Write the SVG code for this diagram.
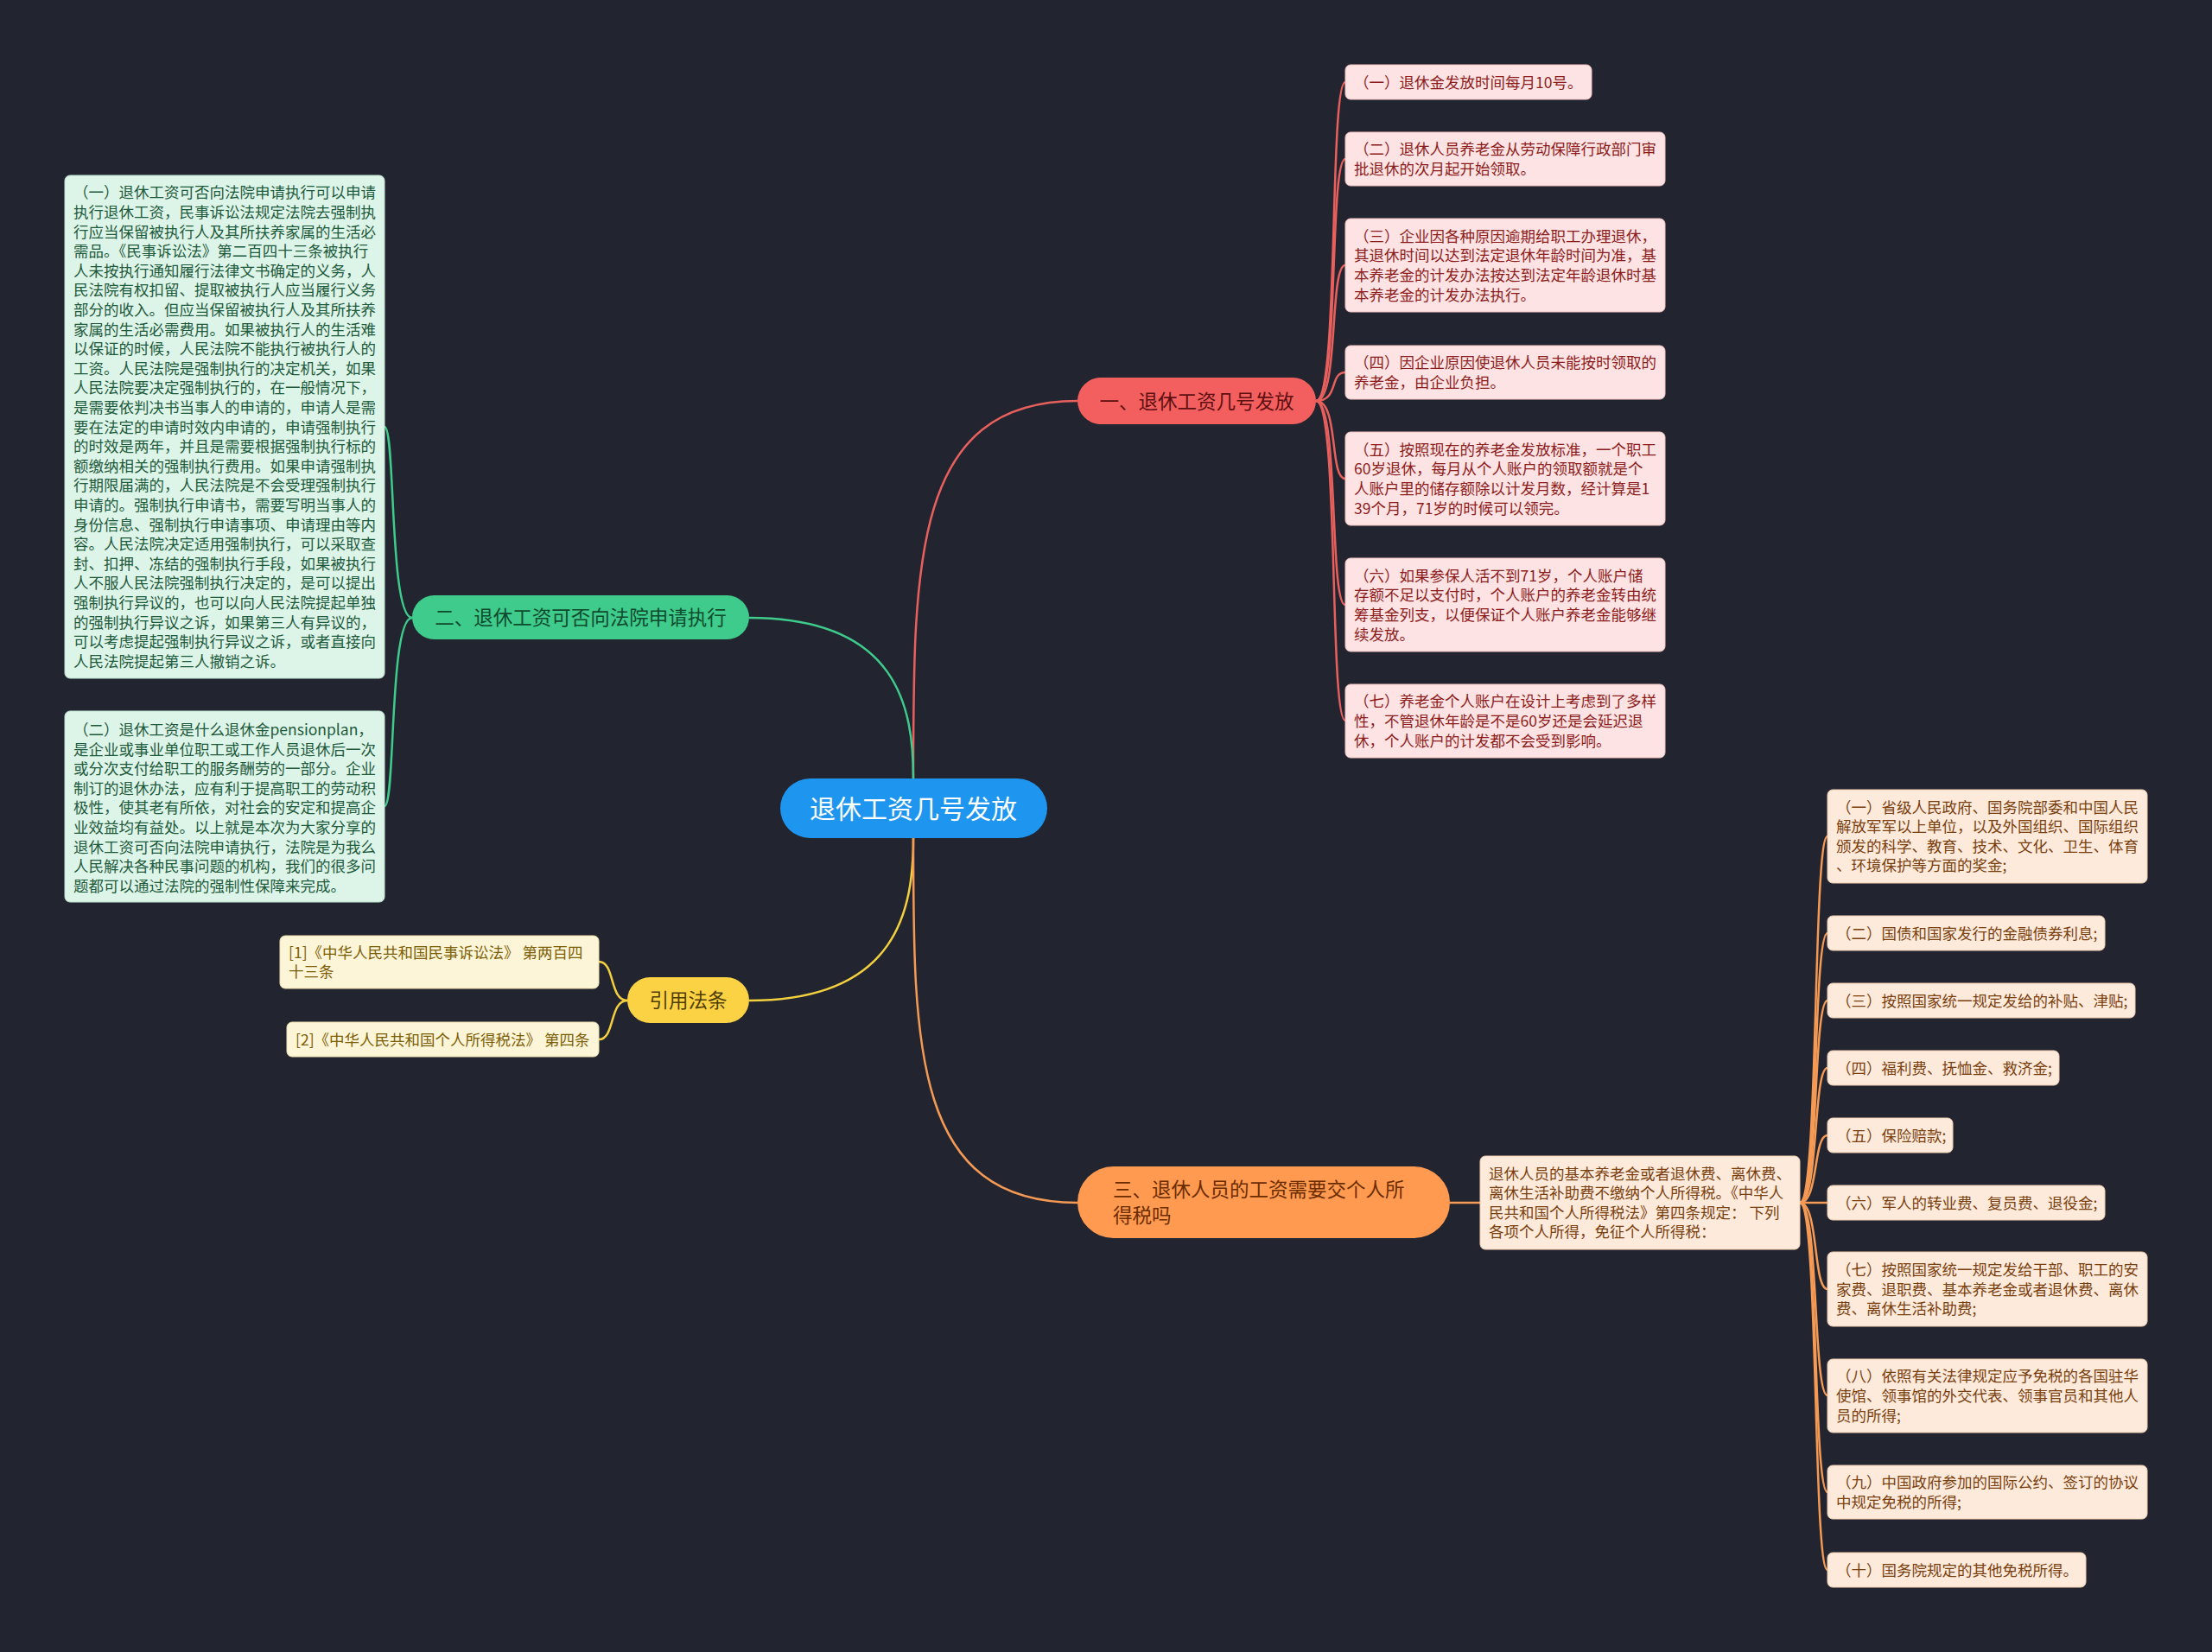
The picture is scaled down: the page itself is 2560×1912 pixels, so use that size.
<svg xmlns="http://www.w3.org/2000/svg" width="2560" height="1912" viewBox="0 0 2560 1912">
<style>
text{font-family:"Noto Sans CJK SC","Noto Sans",sans-serif}
.t{font-size:17.5px}
.br{font-size:22.5px}
.ln{fill:none;stroke-width:2.5}
.lr{stroke:#e8605e}.lg{stroke:#3fcb8c}.ly{stroke:#f2d040}.lo{stroke:#f59a55}
.pk rect{fill:#fde3e3;stroke:#f1c3c3;stroke-width:1}.pk text{fill:#8c1c1c}
.gb rect{fill:#ddf4e8;stroke:#bfe3cf;stroke-width:1}.gb text{fill:#1d5a3c}
.yb rect{fill:#fdf5d8;stroke:#ecdfae;stroke-width:1}.yb text{fill:#7b5e05}
.ob rect{fill:#fdeadb;stroke:#efcdb2;stroke-width:1}.ob text{fill:#7a3f0f}
</style>
<rect width="2560" height="1912" fill="#22252f"/>
<g id="connectors">
<path class="ln lr" d="M1057,901 C1057,650 1057,464 1247,464"/>
<path class="ln lg" d="M1057,901 C1057,820 1040,715 867,715"/>
<path class="ln ly" d="M1057,970 C1057,1051 1040,1158 867,1158"/>
<path class="ln lo" d="M1057,970 C1057,1212 1057,1392 1247,1392"/>
<path class="ln lr" d="M1523,464 C1550,464 1538,95 1557,95"/>
<path class="ln lr" d="M1523,464 C1550,464 1538,184 1557,184"/>
<path class="ln lr" d="M1523,464 C1550,464 1538,307 1557,307"/>
<path class="ln lr" d="M1523,464 C1550,464 1538,431 1557,431"/>
<path class="ln lr" d="M1523,464 C1550,464 1538,554 1557,554"/>
<path class="ln lr" d="M1523,464 C1550,464 1538,700 1557,700"/>
<path class="ln lr" d="M1523,464 C1550,464 1538,834 1557,834"/>
<path class="ln lg" d="M477,715 C450,715 458,494 445,494"/>
<path class="ln lg" d="M477,715 C450,715 458,933 445,933"/>
<path class="ln ly" d="M726,1158 C705,1158 712,1113 693,1113"/>
<path class="ln ly" d="M726,1158 C705,1158 712,1203 693,1203"/>
<path class="ln lo" d="M1678,1392 L1713,1392"/>
<path class="ln lo" d="M2083,1392 C2105,1392 2098,968 2115,968"/>
<path class="ln lo" d="M2083,1392 C2105,1392 2098,1080 2115,1080"/>
<path class="ln lo" d="M2083,1392 C2105,1392 2098,1158 2115,1158"/>
<path class="ln lo" d="M2083,1392 C2105,1392 2098,1236 2115,1236"/>
<path class="ln lo" d="M2083,1392 C2105,1392 2098,1314 2115,1314"/>
<path class="ln lo" d="M2083,1392 C2105,1392 2098,1392 2115,1392"/>
<path class="ln lo" d="M2083,1392 C2105,1392 2098,1492 2115,1492"/>
<path class="ln lo" d="M2083,1392 C2105,1392 2098,1615 2115,1615"/>
<path class="ln lo" d="M2083,1392 C2105,1392 2098,1727 2115,1727"/>
<path class="ln lo" d="M2083,1392 C2105,1392 2098,1817 2115,1817"/>
</g>
<g id="root">
<rect x="903" y="901" width="309" height="69" rx="34.5" fill="#1e96f0"/>
<text x="1057" y="947" font-size="30" fill="#ffffff" text-anchor="middle">退休工资几号发放</text>
</g>
<g id="b1">
<rect x="1247" y="437" width="276" height="54" rx="27" fill="#f35f5f"/>
<text class="br" x="1385" y="472.5" fill="#5e1010" text-anchor="middle">一、退休工资几号发放</text>
</g>
<g id="b2">
<rect x="477" y="689" width="390" height="51" rx="25.5" fill="#3fcb8c"/>
<text class="br" x="672" y="723" fill="#0e4a2c" text-anchor="middle">二、退休工资可否向法院申请执行</text>
</g>
<g id="b3">
<rect x="726" y="1131" width="141" height="53" rx="26.5" fill="#fcd245"/>
<text class="br" x="796.5" y="1166" fill="#4f3d00" text-anchor="middle">引用法条</text>
</g>
<g id="b4">
<rect x="1247" y="1350" width="431" height="83" rx="41.5" fill="#ff9a50"/>
<text class="br" fill="#6b2c00"><tspan x="1288" y="1384.5">三、退休人员的工资需要交个人所</tspan><tspan x="1288" y="1414.5">得税吗</tspan></text>
</g>
<g id="p1" class="pk"><rect x="1557" y="75" width="285" height="40" rx="6"/><text class="t" x="1567" y="101.5">（一）退休金发放时间每月10号。</text></g>
<g id="p2" class="pk"><rect x="1557" y="153" width="370" height="62" rx="6"/><text class="t"><tspan x="1567" y="179.2">（二）退休人员养老金从劳动保障行政部门审</tspan><tspan x="1567" y="201.9">批退休的次月起开始领取。</tspan></text></g>
<g id="p3" class="pk"><rect x="1557" y="253" width="370" height="108" rx="6"/><text class="t"><tspan x="1567" y="279.5">（三）企业因各种原因逾期给职工办理退休，</tspan><tspan x="1567" y="302.2">其退休时间以达到法定退休年龄时间为准，基</tspan><tspan x="1567" y="324.9">本养老金的计发办法按达到法定年龄退休时基</tspan><tspan x="1567" y="347.6">本养老金的计发办法执行。</tspan></text></g>
<g id="p4" class="pk"><rect x="1557" y="400" width="370" height="62" rx="6"/><text class="t"><tspan x="1567" y="426.2">（四）因企业原因使退休人员未能按时领取的</tspan><tspan x="1567" y="448.9">养老金，由企业负担。</tspan></text></g>
<g id="p5" class="pk"><rect x="1557" y="500" width="370" height="108" rx="6"/><text class="t"><tspan x="1567" y="526.5">（五）按照现在的养老金发放标准，一个职工</tspan><tspan x="1567" y="549.2">60岁退休，每月从个人账户的领取额就是个</tspan><tspan x="1567" y="571.9">人账户里的储存额除以计发月数，经计算是1</tspan><tspan x="1567" y="594.6">39个月，71岁的时候可以领完。</tspan></text></g>
<g id="p6" class="pk"><rect x="1557" y="646" width="370" height="108" rx="6"/><text class="t"><tspan x="1567" y="672.5">（六）如果参保人活不到71岁，个人账户储</tspan><tspan x="1567" y="695.2">存额不足以支付时，个人账户的养老金转由统</tspan><tspan x="1567" y="717.9">筹基金列支，以便保证个人账户养老金能够继</tspan><tspan x="1567" y="740.6">续发放。</tspan></text></g>
<g id="p7" class="pk"><rect x="1557" y="792" width="370" height="85" rx="6"/><text class="t"><tspan x="1567" y="818.3">（七）养老金个人账户在设计上考虑到了多样</tspan><tspan x="1567" y="841">性，不管退休年龄是不是60岁还是会延迟退</tspan><tspan x="1567" y="863.7">休，个人账户的计发都不会受到影响。</tspan></text></g>
<g id="g1" class="gb"><rect x="75" y="203" width="370" height="582" rx="6"/><text class="t"><tspan x="85" y="229.3">（一）退休工资可否向法院申请执行可以申请</tspan><tspan x="85" y="251.9">执行退休工资，民事诉讼法规定法院去强制执</tspan><tspan x="85" y="274.5">行应当保留被执行人及其所扶养家属的生活必</tspan><tspan x="85" y="297.1">需品。《民事诉讼法》第二百四十三条被执行</tspan><tspan x="85" y="319.7">人未按执行通知履行法律文书确定的义务，人</tspan><tspan x="85" y="342.3">民法院有权扣留、提取被执行人应当履行义务</tspan><tspan x="85" y="364.9">部分的收入。但应当保留被执行人及其所扶养</tspan><tspan x="85" y="387.5">家属的生活必需费用。如果被执行人的生活难</tspan><tspan x="85" y="410.1">以保证的时候，人民法院不能执行被执行人的</tspan><tspan x="85" y="432.7">工资。人民法院是强制执行的决定机关，如果</tspan><tspan x="85" y="455.3">人民法院要决定强制执行的，在一般情况下，</tspan><tspan x="85" y="477.9">是需要依判决书当事人的申请的，申请人是需</tspan><tspan x="85" y="500.5">要在法定的申请时效内申请的，申请强制执行</tspan><tspan x="85" y="523.1">的时效是两年，并且是需要根据强制执行标的</tspan><tspan x="85" y="545.7">额缴纳相关的强制执行费用。如果申请强制执</tspan><tspan x="85" y="568.3">行期限届满的，人民法院是不会受理强制执行</tspan><tspan x="85" y="590.9">申请的。强制执行申请书，需要写明当事人的</tspan><tspan x="85" y="613.5">身份信息、强制执行申请事项、申请理由等内</tspan><tspan x="85" y="636.1">容。人民法院决定适用强制执行，可以采取查</tspan><tspan x="85" y="658.7">封、扣押、冻结的强制执行手段，如果被执行</tspan><tspan x="85" y="681.3">人不服人民法院强制执行决定的，是可以提出</tspan><tspan x="85" y="703.9">强制执行异议的，也可以向人民法院提起单独</tspan><tspan x="85" y="726.5">的强制执行异议之诉，如果第三人有异议的，</tspan><tspan x="85" y="749.1">可以考虑提起强制执行异议之诉，或者直接向</tspan><tspan x="85" y="771.7">人民法院提起第三人撤销之诉。</tspan></text></g>
<g id="g2" class="gb"><rect x="75" y="823" width="370" height="221" rx="6"/><text class="t"><tspan x="85" y="851">（二）退休工资是什么退休金pensionplan，</tspan><tspan x="85" y="873.6">是企业或事业单位职工或工作人员退休后一次</tspan><tspan x="85" y="896.2">或分次支付给职工的服务酬劳的一部分。企业</tspan><tspan x="85" y="918.8">制订的退休办法，应有利于提高职工的劳动积</tspan><tspan x="85" y="941.4">极性，使其老有所依，对社会的安定和提高企</tspan><tspan x="85" y="964">业效益均有益处。以上就是本次为大家分享的</tspan><tspan x="85" y="986.6">退休工资可否向法院申请执行，法院是为我么</tspan><tspan x="85" y="1009.2">人民解决各种民事问题的机构，我们的很多问</tspan><tspan x="85" y="1031.8">题都可以通过法院的强制性保障来完成。</tspan></text></g>
<g id="y1" class="yb"><rect x="324" y="1083" width="369" height="61" rx="6"/><text class="t"><tspan x="334" y="1108.7">[1]《中华人民共和国民事诉讼法》 第两百四</tspan><tspan x="334" y="1131.3">十三条</tspan></text></g>
<g id="y2" class="yb"><rect x="332" y="1183" width="361" height="40" rx="6"/><text class="t" x="342" y="1209.5">[2]《中华人民共和国个人所得税法》 第四条</text></g>
<g id="o0" class="ob"><rect x="1713" y="1338" width="370" height="108" rx="6"/><text class="t"><tspan x="1723" y="1364.5">退休人员的基本养老金或者退休费、离休费、</tspan><tspan x="1723" y="1387.1">离休生活补助费不缴纳个人所得税。《中华人</tspan><tspan x="1723" y="1409.7">民共和国个人所得税法》第四条规定： 下列</tspan><tspan x="1723" y="1432.3">各项个人所得，免征个人所得税：</tspan></text></g>
<g id="o1" class="ob"><rect x="2115" y="914" width="370" height="108" rx="6"/><text class="t"><tspan x="2125" y="940.5">（一）省级人民政府、国务院部委和中国人民</tspan><tspan x="2125" y="963.1">解放军军以上单位，以及外国组织、国际组织</tspan><tspan x="2125" y="985.7">颁发的科学、教育、技术、文化、卫生、体育</tspan><tspan x="2125" y="1008.3">、环境保护等方面的奖金;</tspan></text></g>
<g id="o2" class="ob"><rect x="2115" y="1060" width="321" height="40" rx="6"/><text class="t" x="2125" y="1086.5">（二）国债和国家发行的金融债券利息;</text></g>
<g id="o3" class="ob"><rect x="2115" y="1138" width="356" height="40" rx="6"/><text class="t" x="2125" y="1164.5">（三）按照国家统一规定发给的补贴、津贴;</text></g>
<g id="o4" class="ob"><rect x="2115" y="1216" width="268" height="40" rx="6"/><text class="t" x="2125" y="1242.5">（四）福利费、抚恤金、救济金;</text></g>
<g id="o5" class="ob"><rect x="2115" y="1294" width="145" height="40" rx="6"/><text class="t" x="2125" y="1320.5">（五）保险赔款;</text></g>
<g id="o6" class="ob"><rect x="2115" y="1372" width="321" height="40" rx="6"/><text class="t" x="2125" y="1398.5">（六）军人的转业费、复员费、退役金;</text></g>
<g id="o7" class="ob"><rect x="2115" y="1449" width="370" height="86" rx="6"/><text class="t"><tspan x="2125" y="1475.9">（七）按照国家统一规定发给干部、职工的安</tspan><tspan x="2125" y="1498.5">家费、退职费、基本养老金或者退休费、离休</tspan><tspan x="2125" y="1521.1">费、离休生活补助费;</tspan></text></g>
<g id="o8" class="ob"><rect x="2115" y="1573" width="370" height="85" rx="6"/><text class="t"><tspan x="2125" y="1599.3">（八）依照有关法律规定应予免税的各国驻华</tspan><tspan x="2125" y="1621.9">使馆、领事馆的外交代表、领事官员和其他人</tspan><tspan x="2125" y="1644.5">员的所得;</tspan></text></g>
<g id="o9" class="ob"><rect x="2115" y="1696" width="370" height="62" rx="6"/><text class="t"><tspan x="2125" y="1722.2">（九）中国政府参加的国际公约、签订的协议</tspan><tspan x="2125" y="1744.8">中规定免税的所得;</tspan></text></g>
<g id="o10" class="ob"><rect x="2115" y="1797" width="299" height="40" rx="6"/><text class="t" x="2125" y="1823.5">（十）国务院规定的其他免税所得。</text></g>
</svg>
